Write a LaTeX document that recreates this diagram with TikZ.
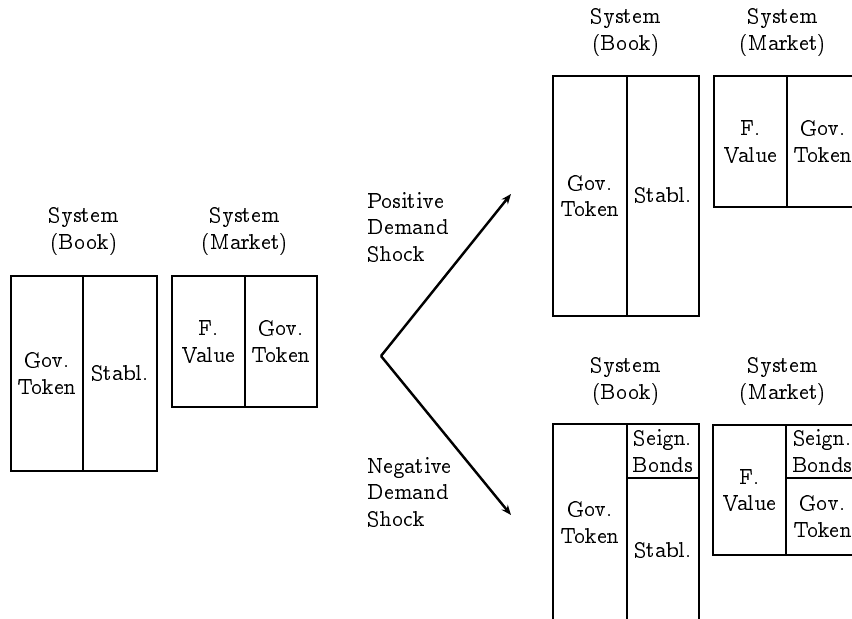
\documentclass[tikz,border=0pt]{standalone}
\usepackage[OT1]{fontenc}
\renewcommand{\rmdefault}{ccr}
\usetikzlibrary{arrows.meta}
\begin{document}
\begin{tikzpicture}[x=0.45pt,y=-0.45pt,
  box/.style={line width=0.6pt},
  txt/.style={align=center,inner sep=0pt},
  lbl/.style={align=left,inner sep=0pt,anchor=west},
  shockarrow/.style={line width=1.1pt,-{Stealth[length=4.5pt,width=3.6pt]}}]
\useasboundingbox (0,0) rectangle (852,619);
\clip (0,0) rectangle (852,619);
% ---- left: initial state
\node[txt] (lbook) at (84,231.5) {System\\(Book)};
\node[txt] (lmkt) at (245,231.5) {System\\(Market)};
\draw[box] (11,276) rectangle (157,471);
\draw[box] (83,276) -- (83,471);
\node[txt] (lgov) at (47,373.5) {Gov.\\Token};
\node[txt] (lstab) at (120,372.5) {Stabl.};
\draw[box] (172,276) rectangle (317,407);
\draw[box] (245,276) -- (245,407);
\node[txt] (lfv) at (208.5,341.5) {F.\\Value};
\node[txt] (lmgov) at (281,341.5) {Gov.\\Token};
% ---- arrows
\coordinate (v) at (381,356);
\coordinate (up) at (511,194);
\coordinate (dn) at (511,515);
\draw[shockarrow] (v) -- (up);
\draw[shockarrow] (v) -- (dn);
\node[lbl] (pos) at (367,227) {Positive\\Demand\\Shock};
\node[lbl] (neg) at (367,492) {Negative\\Demand\\Shock};
% ---- top right
\node[txt] (tbook) at (626,32.5) {System\\(Book)};
\node[txt] (tmkt) at (783,32.5) {System\\(Market)};
\draw[box] (553,76) rectangle (699,316);
\draw[box] (627,76) -- (627,316);
\node[txt] (tgov) at (590,196) {Gov.\\Token};
\node[txt] (tstab) at (663,195) {Stabl.};
\draw[box] (714,76) rectangle (859,207);
\draw[box] (787,76) -- (787,207);
\node[txt] (tfv) at (750.5,141.5) {F.\\Value};
\node[txt] (tmgov) at (823,141.5) {Gov.\\Token};
% ---- bottom right
\node[txt] (bbook) at (626,381.5) {System\\(Book)};
\node[txt] (bmkt) at (783,381.5) {System\\(Market)};
\draw[box] (553,424) rectangle (699,621);
\draw[box] (627,424) -- (627,621);
\draw[box] (627,478) -- (699,478);
\node[txt] (bgov) at (590,522.5) {Gov.\\Token};
\node[txt] (bseig) at (663,451) {Seign.\\Bonds};
\node[txt] (bstab) at (663,550) {Stabl.};
\draw[box] (713,425) rectangle (859,555);
\draw[box] (786,425) -- (786,555);
\draw[box] (786,478) -- (859,478);
\node[txt] (bfv) at (749.5,490) {F.\\Value};
\node[txt] (bmseig) at (822.5,451.5) {Seign.\\Bonds};
\node[txt] (bmgov) at (822.5,516.5) {Gov.\\Token};
\end{tikzpicture}
\end{document}
